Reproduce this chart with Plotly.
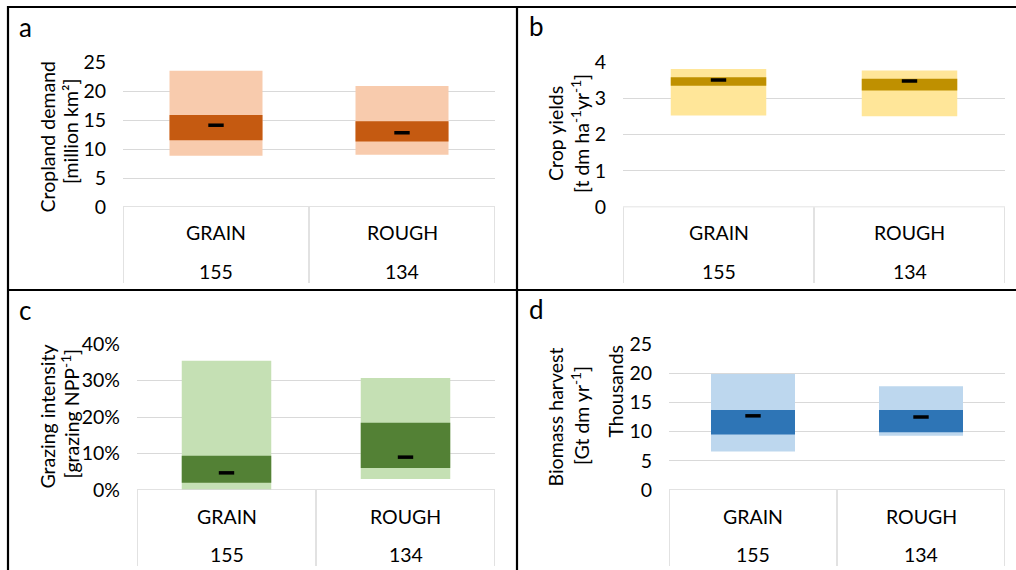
import plotly.graph_objects as go

W, H = 1016, 570
FONT = "Lato"
TXT = "#000000"
GRID = "#D9D9D9"
FS = 19.5

categories = ["GRAIN", "ROUGH"]
counts = ["155", "134"]

# panel a: cropland demand [million km2]
a_low = [8.85, 9.0]
a_high = [23.5, 20.85]
a_q1 = [11.5, 11.3]
a_q3 = [15.85, 14.8]
a_mean = [14.1, 12.8]

# panel b: crop yields [t dm ha-1 yr-1]
b_low = [2.52, 2.50]
b_high = [3.80, 3.76]
b_q1 = [3.34, 3.21]
b_q3 = [3.57, 3.53]
b_mean = [3.50, 3.47]

# panel c: grazing intensity (fraction)
c_low = [0.0, 0.03]
c_high = [0.354, 0.307]
c_q1 = [0.02, 0.06]
c_q3 = [0.094, 0.184]
c_mean = [0.047, 0.090]

# panel d: biomass harvest (thousands)
d_low = [6.6, 9.3]
d_high = [19.85, 17.75]
d_q1 = [9.5, 9.9]
d_q3 = [13.7, 13.7]
d_mean = [12.7, 12.5]

a_ticks = [0, 5, 10, 15, 20, 25]
b_ticks = [0, 1, 2, 3, 4]
c_ticks = [0, 0.1, 0.2, 0.3, 0.4]
d_ticks = [0, 5, 10, 15, 20, 25]


def px(x):
    return x / W


def py(y):
    return 1 - y / H


panels = [
    dict(key="", low=a_low, high=a_high, q1=a_q1, q3=a_q3, mean=a_mean,
         light="#F8CBAD", dark="#C55A11", ticks=a_ticks, rng=[0, 25], fmt=None,
         x0=123, x1=495, ytop=62, ybot=207, tab_end=283, lab1=233, lab2=271.5),
    dict(key="2", low=b_low, high=b_high, q1=b_q1, q3=b_q3, mean=b_mean,
         light="#FFE699", dark="#BF9000", ticks=b_ticks, rng=[0, 4], fmt=None,
         x0=623, x1=1005, ytop=61.7, ybot=207.3, tab_end=283, lab1=233, lab2=271.5),
    dict(key="3", low=c_low, high=c_high, q1=c_q1, q3=c_q3, mean=c_mean,
         light="#C5E0B4", dark="#538135", ticks=c_ticks, rng=[0, 0.4], fmt=".0%",
         x0=137, x1=495, ytop=344, ybot=490, tab_end=566, lab1=516, lab2=554),
    dict(key="4", low=d_low, high=d_high, q1=d_q1, q3=d_q3, mean=d_mean,
         light="#BDD7EE", dark="#2E75B6", ticks=d_ticks, rng=[0, 25], fmt=None,
         x0=669, x1=1005, ytop=344, ybot=490, tab_end=566, lab1=516, lab2=554),
]

fig = go.Figure()
shapes = []
annotations = []
layout = {}

for p in panels:
    k = p["key"]
    xa = "x" + k
    ya = "y" + k
    fig.add_trace(go.Bar(
        x=categories, base=p["low"],
        y=[h - l for h, l in zip(p["high"], p["low"])],
        width=0.5, marker=dict(color=p["light"], line=dict(width=0)),
        xaxis=xa, yaxis=ya, showlegend=False, hoverinfo="skip"))
    fig.add_trace(go.Bar(
        x=categories, base=p["q1"],
        y=[h - l for h, l in zip(p["q3"], p["q1"])],
        width=0.5, marker=dict(color=p["dark"], line=dict(width=0)),
        xaxis=xa, yaxis=ya, showlegend=False, hoverinfo="skip"))
    fig.add_trace(go.Scatter(
        x=categories, y=p["mean"], mode="markers",
        marker=dict(symbol="line-ew", size=11, line=dict(width=3.5, color="black")),
        xaxis=xa, yaxis=ya, showlegend=False, hoverinfo="skip"))

    layout["xaxis" + k] = dict(
        domain=[px(p["x0"]), px(p["x1"])], range=[-0.5, 1.5],
        showticklabels=False, showgrid=False, zeroline=False, showline=False,
        anchor=ya, fixedrange=True, automargin=False)
    yax = dict(
        domain=[py(p["ybot"]), py(p["ytop"])], range=p["rng"],
        tickvals=p["ticks"], showgrid=True, gridcolor=GRID, gridwidth=1,
        zeroline=False, showline=False, ticks="", ticklabelstandoff=16,
        tickfont=dict(family=FONT, size=FS, color=TXT), anchor=xa, fixedrange=True,
        automargin=False)
    if p["fmt"]:
        yax["tickformat"] = p["fmt"]
    layout["yaxis" + k] = yax

    # table below axis
    shapes.append(dict(type="line", xref=xa, yref=ya, x0=-0.5, x1=1.5, y0=0, y1=0,
                       line=dict(color=GRID, width=1.5)))
    for xv in [-0.5, 0.5, 1.5]:
        shapes.append(dict(type="line", xref=xa, yref="paper", x0=xv, x1=xv,
                           y0=py(p["ybot"]), y1=py(p["tab_end"]),
                           line=dict(color=GRID, width=1.5)))
    for i, c in enumerate(categories):
        annotations.append(dict(x=i, y=py(p["lab1"]), xref=xa, yref="paper", text=c,
                                showarrow=False, xanchor="center", yanchor="middle",
                                font=dict(family=FONT, size=FS, color=TXT)))
        annotations.append(dict(x=i, y=py(p["lab2"]), xref=xa, yref="paper", text=counts[i],
                                showarrow=False, xanchor="center", yanchor="middle",
                                font=dict(family=FONT, size=FS, color=TXT)))

# axis titles (one annotation per line)
titles = [
    ("Cropland demand", 47, 137.5),
    ("[million km²]", 70, 132),
    ("Crop yields", 555, 134),
    ("[t dm ha<sup>-1</sup>yr<sup>-1</sup>]", 580, 134),
    ("Grazing intensity", 47, 416.5),
    ("[grazing NPP<sup>-1</sup>]", 70, 413.5),
    ("Biomass harvest", 555, 417.5),
    ("[Gt dm yr<sup>-1</sup>]", 580, 416),
    ("Thousands", 615, 391.5),
]
for t, x, y in titles:
    annotations.append(dict(x=px(x), y=py(y), xref="paper", yref="paper", text=t,
                            textangle=-90, showarrow=False, xanchor="center",
                            yanchor="middle", align="center",
                            font=dict(family=FONT, size=FS, color=TXT)))

# panel letters
for letter, x, y in [("a", 17, 27), ("b", 527, 26), ("c", 17, 310), ("d", 527, 309)]:
    annotations.append(dict(x=px(x), y=py(y), xref="paper", yref="paper", text=letter,
                            showarrow=False, xanchor="left", yanchor="middle",
                            font=dict(family=FONT, size=26, color=TXT)))

# panel borders
BL = dict(color="black", width=2.2)
shapes += [
    dict(type="line", xref="paper", yref="paper", x0=px(8), x1=px(8), y0=py(6), y1=0, line=BL),
    dict(type="line", xref="paper", yref="paper", x0=px(7), x1=1, y0=py(7), y1=py(7), line=BL),
    dict(type="line", xref="paper", yref="paper", x0=px(517), x1=px(517), y0=py(6), y1=0, line=BL),
    dict(type="line", xref="paper", yref="paper", x0=px(7), x1=1, y0=py(290), y1=py(290), line=BL),
]

fig.update_layout(
    width=W, height=H, margin=dict(l=0, r=0, t=0, b=0, pad=0, autoexpand=False),
    paper_bgcolor="white", plot_bgcolor="white",
    barmode="overlay", showlegend=False,
    shapes=shapes, annotations=annotations,
    font=dict(family=FONT, color=TXT),
    **layout)

fig.write_html("out.html")
